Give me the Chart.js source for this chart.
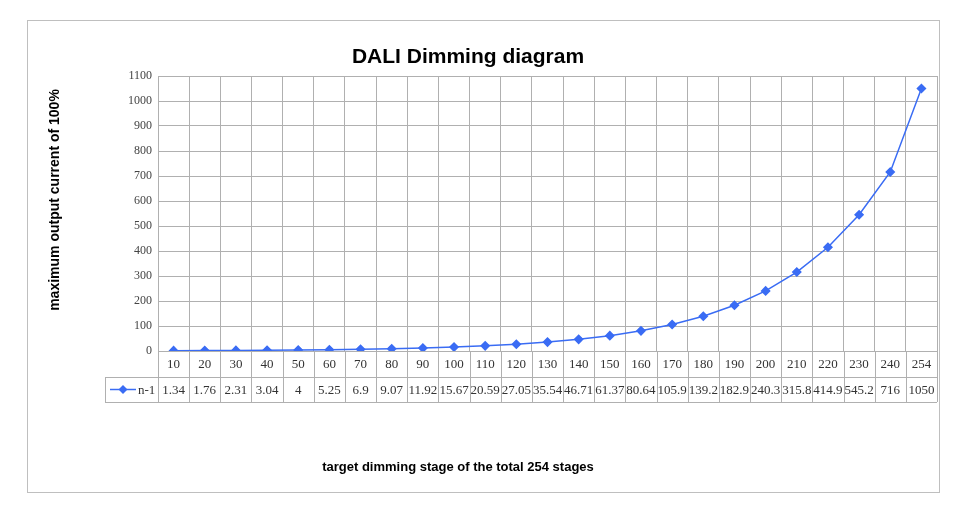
<!DOCTYPE html><html><head><meta charset="utf-8">
<script src="https://cdn.jsdelivr.net/npm/chart.js@4"></script>
<style>html,body{margin:0;padding:0;background:#fff}#w{width:969px;height:528px}</style></head><body><div id="w"><canvas id="c"></canvas></div>
<script>
const categories=["10","20","30","40","50","60","70","80","90","100","110","120","130","140","150","160","170","180","190","200","210","220","230","240","254"];
const values=[1.34,1.76,2.31,3.04,4,5.25,6.9,9.07,11.92,15.67,20.59,27.05,35.54,46.71,61.37,80.64,105.9,139.2,182.9,240.3,315.8,414.9,545.2,716,1050];
const valueLabels=["1.34","1.76","2.31","3.04","4","5.25","6.9","9.07","11.92","15.67","20.59","27.05","35.54","46.71","61.37","80.64","105.9","139.2","182.9","240.3","315.8","414.9","545.2","716","1050"];
const seriesName="n-1";
const titleText="DALI Dimming diagram";
const yTitle="maximum output current of 100%";
const xTitle="target dimming stage of the total 254 stages";
const COLOR="#3a6cf4", GRID="#b0b0b0", SERIF="'Liberation Serif','DejaVu Serif',serif";
const extras={id:'extras',afterDraw(ch){
 const c=ch.ctx,a=ch.chartArea,x=ch.scales.x;
 const n=categories.length,w=(a.right-a.left)/n;
 const r1=a.bottom+26,r2=a.bottom+51,lx=105;
 c.save();
 c.strokeStyle="#bfbfbf";c.lineWidth=1;c.strokeRect(27.5,20.5,912,472);
 c.strokeStyle=GRID;c.beginPath();
 for(let i=0;i<=n;i++){const px=Math.round(a.left+i*w)+0.5;c.moveTo(px,a.bottom);c.lineTo(px,r2);}
 c.moveTo(lx+.5,r1);c.lineTo(lx+.5,r2);
 c.moveTo(lx,r1+.5);c.lineTo(a.right,r1+.5);c.moveTo(lx,r2+.5);c.lineTo(a.right,r2+.5);
 c.stroke();
 c.fillStyle="#333";c.font="13px "+SERIF;c.textAlign="center";c.textBaseline="middle";
 for(let i=0;i<n;i++){const cx=x.getPixelForValue(i);c.fillText(categories[i],cx,(a.bottom+r1)/2+1);c.fillText(valueLabels[i],cx,(r1+r2)/2+1);}
 const ly=(r1+r2)/2;c.strokeStyle=COLOR;c.lineWidth=1.5;c.beginPath();c.moveTo(110,ly);c.lineTo(136,ly);c.stroke();
 c.fillStyle=COLOR;c.beginPath();c.moveTo(123,ly-4.5);c.lineTo(127.5,ly);c.lineTo(123,ly+4.5);c.lineTo(118.5,ly);c.closePath();c.fill();
 c.fillStyle="#333";c.textAlign="left";c.fillText(seriesName,138,ly+1);
 c.fillStyle="#000";c.textAlign="center";c.font="bold 21px 'Liberation Sans Narrow','Liberation Sans',sans-serif";c.fillText(titleText,468,57);
 c.font="bold 13px 'Liberation Sans Narrow','Liberation Sans',sans-serif";c.fillText(xTitle,458,467);
 c.font="bold 14px 'Liberation Sans',sans-serif";
 c.translate(55,200);c.rotate(-Math.PI/2);c.fillText(yTitle,0,0);
 c.restore();}};
new Chart(document.getElementById('c'),{type:'line',
 data:{labels:categories,datasets:[{label:seriesName,data:values,borderColor:COLOR,backgroundColor:COLOR,borderWidth:1.5,pointStyle:'rectRot',pointRadius:4,pointHoverRadius:4,tension:0}]},
 options:{responsive:true,maintainAspectRatio:false,animation:false,devicePixelRatio:1,
  layout:{padding:{left:118,right:32,top:76,bottom:177}},
  plugins:{legend:{display:false},tooltip:{enabled:false}},
  scales:{
   x:{offset:true,grid:{offset:true,color:GRID,drawTicks:false},border:{color:GRID},ticks:{display:false}},
   y:{min:0,max:1100,afterFit(s){s.width=40;},ticks:{stepSize:100,callback:v=>String(v),color:"#444",font:{family:SERIF,size:12},padding:6},grid:{color:GRID,drawTicks:false},border:{color:GRID}}}},
 plugins:[extras]});
</script></body></html>
